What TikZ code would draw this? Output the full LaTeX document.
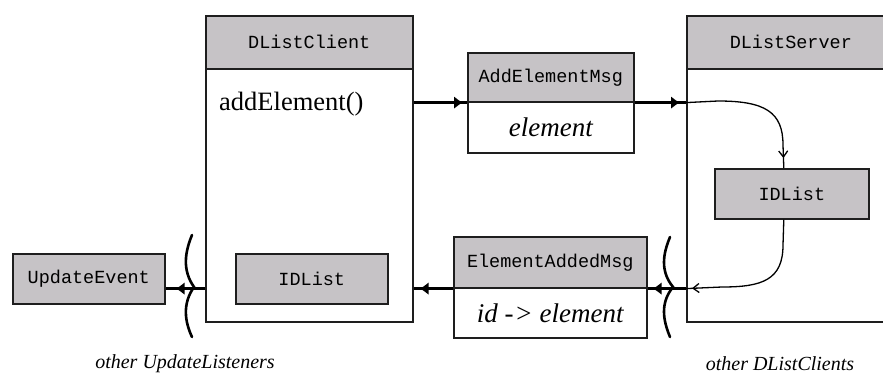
\documentclass[tikz,border=0pt]{standalone}
\usepackage{fontspec}
\setmainfont{Liberation Serif}
\setmonofont{Liberation Mono}
\usetikzlibrary{arrows.meta,decorations.markings}
\definecolor{boxgray}{RGB}{198,195,198}
\definecolor{edgecol}{RGB}{30,30,30}
\begin{document}
\begin{tikzpicture}[x=1pt,y=-1pt,
  hd/.style={draw=edgecol, line width=1.6pt, fill=boxgray, anchor=north west, inner sep=0pt,
    font=\fontsize{18.5}{20}\ttfamily},
  bd/.style={draw=edgecol, line width=1.6pt, fill=white, anchor=north west, inner sep=0pt},
  big/.style={font=\fontsize{26.5}{30}\selectfont},
  bigit/.style={font=\fontsize{27}{30}\selectfont\itshape},
  msg/.style={line width=3pt, draw=black},
  tipat/.style={postaction={decorate}, decoration={markings,
    mark=at position #1 with {\arrow{Latex[length=9pt,width=13pt]}}}},
  thinln/.style={line width=1.3pt, draw=black},
  opentip/.style={postaction={decorate}, decoration={markings,
    mark=at position #1 with {\arrow[line width=1.3pt]{Straight Barb[length=6pt,width=9pt]}}}},
  fork/.style={line width=2.6pt, draw=black, line cap=round},
  note/.style={font=\fontsize{20}{23}\selectfont\itshape}
]
\useasboundingbox (0,0) rectangle (883,385);
\clip (0,0) rectangle (883,385);

% DListClient
\node[bd, minimum width=207pt, minimum height=253pt] (cbody) at (205,68) {};
\node[hd, minimum width=207pt, minimum height=53pt] (chead) at (205,15) {DListClient};
\node[big, anchor=west, inner sep=0pt] (addfn) at (219,104) {addElement()};
\node[hd, minimum width=152pt, minimum height=50pt] (clist) at (235,253) {IDList};

% DListServer
\node[bd, minimum width=208pt, minimum height=253pt] (sbody) at (686,68) {};
\node[hd, minimum width=208pt, minimum height=53pt] (shead) at (686,15) {DListServer};
\node[hd, minimum width=154pt, minimum height=50pt] (slist) at (714,168) {IDList};

% messages
\node[bd, minimum width=166pt, minimum height=51pt, bigit] (addbody) at (467,101) {element};
\node[hd, minimum width=166pt, minimum height=49pt] (addhead) at (467,52) {AddElementMsg};
\node[bd, minimum width=193pt, minimum height=50pt, bigit] (edabody) at (453,287) {id -\kern1pt> element};
\node[hd, minimum width=193pt, minimum height=51pt] (edahead) at (453,236) {ElementAddedMsg};

% UpdateEvent
\node[hd, minimum width=152pt, minimum height=50pt] (uevent) at (12,253) {UpdateEvent};

% labels
\node[note] (ol) at (185,364) {other UpdateListeners};
\node[note] (oc) at (780,364) {other DListClients};

% connection points
\coordinate (sin) at (addhead.south east -| sbody.west);
\coordinate (sout) at (edahead.south east -| sbody.west);

% thick arrows
\draw[msg, tipat=-4pt] (cbody.east |- addhead.south) -- (addhead.south west);
\draw[msg, tipat=-6pt] (addhead.south east) -- (sin);
\draw[msg, tipat=-5pt] (sout) -- (edahead.south east);
\draw[msg, tipat=-6pt] (edahead.south west) -- (edahead.south west -| cbody.east);
\draw[msg, tipat=-10pt] (cbody.west |- edahead.south) -- (uevent.east |- edahead.south);

% thin arrows inside server
\draw[thinln, opentip=-10pt] (sin) -- (718,101) .. controls (765,101) and (783,112) .. (783,145) -- ([xshift=-8pt]slist.north);
\draw[thinln, opentip=-6pt] ([xshift=-8pt]slist.south) -- (783,245) .. controls (783,280) and (762,287) .. (722,287) -- (sout);

% forks
\draw[fork] (192,235) .. controls (185,252) and (182,270) .. (194,287) .. controls (182,304) and (185,322) .. (192,337);
\draw[fork] (670,237) .. controls (663,254) and (660,271) .. (673,287) .. controls (660,303) and (663,320) .. (670,337);
\end{tikzpicture}
\end{document}
